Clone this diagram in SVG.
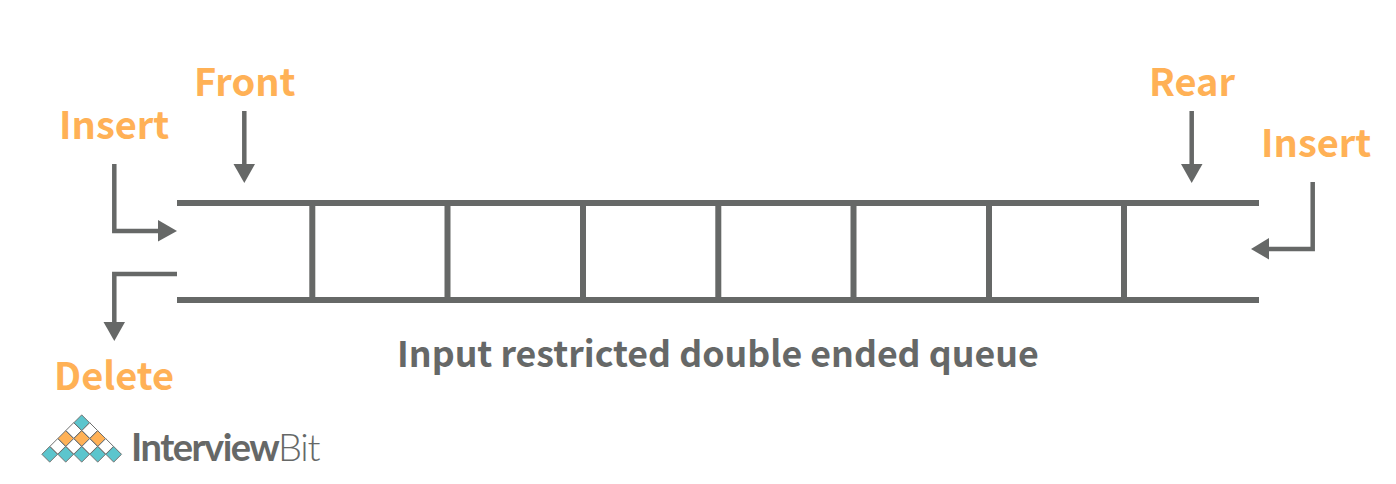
<svg xmlns="http://www.w3.org/2000/svg" width="1396" height="484" viewBox="0 0 1396 484">
<style>
.lbl{font-family:"Noto Sans CJK SC","Noto Sans",sans-serif;font-weight:700;font-size:38px;fill:#ffb156}
.cap{font-family:"Noto Sans CJK SC","Noto Sans",sans-serif;font-weight:700;font-size:35.700px;fill:#666867}
.bar{stroke:#666867;stroke-width:6;fill:none}
.ln{stroke:#666867;stroke-width:4.5;fill:none}
.hd{fill:#666867}
.t{fill:#5cc5cd;stroke:#6d6f6e;stroke-width:1}
.o{fill:#ffb156;stroke:#6d6f6e;stroke-width:1}
.w{fill:#fff;stroke:#6d6f6e;stroke-width:1}
.lg{font-family:"Lato",sans-serif;font-size:38px;fill:#666867}
</style>
<defs><path id="d" d="M0-7.800 7.800 0 0 7.800-7.800 0Z"/></defs>
<rect width="1396" height="484" fill="#fff"/>
<g id="queue">
<path class="bar" d="M177 203H1259M177 300H1259M312.300 203V300M447.500 203V300M583 203V300M718.300 203V300M853.500 203V300M989 203V300M1124 203V300"/>
</g>
<g id="connectors">
<path class="ln" d="M244.300 111V166"/><path class="hd" d="M233.500 164H255L244.300 183Z"/>
<path class="ln" d="M1191.700 111V166"/><path class="hd" d="M1181 164H1202.500L1191.700 183Z"/>
<path class="ln" d="M114.300 164V231H160"/><path class="hd" d="M158 220V241.500L177 231Z"/>
<path class="ln" d="M177 274H114.300V324"/><path class="hd" d="M103.500 322H125L114.300 341Z"/>
<path class="ln" d="M1312.700 182V249H1267"/><path class="hd" d="M1269 238V259.500L1251 249Z"/>
</g>
<g id="front"><text class="lbl" x="194" y="95.500">Front</text></g>
<g id="insert-left"><text class="lbl" x="59" y="139">Insert</text></g>
<g id="delete"><text class="lbl" x="54" y="389.500">Delete</text></g>
<g id="rear"><text class="lbl" x="1149" y="95.500">Rear</text></g>
<g id="insert-right"><text class="lbl" x="1261" y="157">Insert</text></g>
<g id="caption"><text class="cap" x="397" y="367">Input restricted double ended queue</text></g>
<g id="logo">
<use href="#d" class="t" x="81.700" y="422.700"/>
<use href="#d" class="w" x="73.700" y="430.500"/><use href="#d" class="w" x="89.700" y="430.500"/>
<use href="#d" class="o" x="65.700" y="438.500"/><use href="#d" class="o" x="81.700" y="438.500"/><use href="#d" class="o" x="97.700" y="438.500"/>
<use href="#d" class="w" x="57.700" y="446.400"/><use href="#d" class="w" x="73.700" y="446.400"/><use href="#d" class="w" x="89.700" y="446.400"/><use href="#d" class="w" x="105.700" y="446.400"/>
<use href="#d" class="t" x="49.700" y="454.300"/><use href="#d" class="t" x="65.700" y="454.300"/><use href="#d" class="t" x="81.700" y="454.300"/><use href="#d" class="t" x="97.700" y="454.300"/><use href="#d" class="t" x="113.700" y="454.300"/>
<text class="lg" x="131" y="461" font-weight="700" letter-spacing="-1.500">Interview</text>
<text class="lg" x="278" y="461" font-weight="300" letter-spacing="-1.300">Bit</text>
</g>
</svg>
